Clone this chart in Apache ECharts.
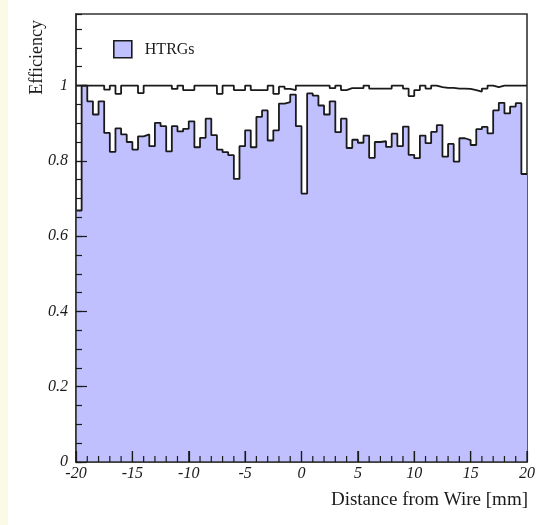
<!DOCTYPE html>
<html>
<head>
<meta charset="utf-8">
<script src="https://cdn.jsdelivr.net/npm/echarts@6/dist/echarts.min.js"></script>
<style>
  html, body { margin: 0; padding: 0; background: #ffffff; }
  #chart { width: 542px; height: 525px; }
</style>
</head>
<body>
<div id="chart"></div>
<script>
// Histogram binning: 80 bins of 0.5 mm between -20 and 20 mm
const xMin = -20;
const xMax = 20;
const binWidth = 0.5;

// HTRG efficiency per bin (filled histogram)
const htrgEff = [
  0.668, 1.000, 0.958, 0.923, 0.958, 0.874, 0.824, 0.886, 0.870, 0.850,
  0.830, 0.865, 0.870, 0.839, 0.901, 0.892, 0.825, 0.892, 0.878, 0.885,
  0.905, 0.836, 0.861, 0.912, 0.868, 0.830, 0.823, 0.815, 0.752, 0.839,
  0.881, 0.836, 0.917, 0.934, 0.854, 0.881, 0.952, 0.956, 0.976, 0.892,
  0.713, 0.979, 0.973, 0.947, 0.923, 0.958, 0.876, 0.912, 0.834, 0.856,
  0.848, 0.867, 0.808, 0.850, 0.852, 0.837, 0.872, 0.839, 0.891, 0.816,
  0.807, 0.867, 0.847, 0.877, 0.895, 0.811, 0.845, 0.798, 0.860, 0.855,
  0.842, 0.884, 0.890, 0.873, 0.934, 0.954, 0.926, 0.944, 0.953, 0.765
];

// Hit efficiency per bin (outline histogram near 1)
const hitEff = [
  1.000, 1.000, 1.000, 1.000, 1.000, 0.989, 1.000, 0.978, 1.000, 1.000,
  1.000, 0.980, 1.000, 1.000, 1.000, 1.000, 1.000, 0.991, 1.000, 0.988,
  0.988, 1.000, 1.000, 1.000, 1.000, 0.978, 1.000, 1.000, 0.988, 0.988,
  1.000, 0.988, 0.988, 0.988, 1.000, 0.978, 0.997, 0.991, 0.988, 1.000,
  1.000, 1.000, 1.000, 1.000, 1.000, 0.993, 1.000, 0.988, 0.993, 0.993,
  0.993, 1.000, 0.992, 0.992, 0.992, 0.992, 1.000, 1.000, 0.992, 0.972,
  0.988, 1.000, 0.992, 1.000, 0.996, 0.994, 0.994, 0.992, 0.992, 0.991,
  0.988, 0.984, 0.992, 1.000, 0.996, 1.000, 1.000, 1.000, 1.000, 1.000
];

// Axis ranges and ticks
const yMin = 0;
const yMax = 1.19;
const yMajor = 0.2;
const yMinor = 0.05;
const xMajor = 5;
const xMinor = 1;

const legendName = 'HTRGs';
const xTitle = 'Distance from Wire [mm]';
const yTitle = 'Efficiency';

// Step-line points: one per bin left edge plus the closing right edge
function toSteps(values) {
  const pts = values.map((v, i) => [xMin + i * binWidth, v]);
  pts.push([xMax, values[values.length - 1]]);
  return pts;
}

// Tick positions along the distance axis (every 1 mm)
const xTickPos = [];
for (let t = xMin; t <= xMax; t += xMinor) xTickPos.push([t, yMin]);

const serif = '"Liberation Serif", "Times New Roman", serif';
const ink = '#1a1a1a';
const frame = '#333333';
const fill = '#c0c0ff';

const chart = echarts.init(document.getElementById('chart'), null, { renderer: 'canvas' });

chart.setOption({
  backgroundColor: '#ffffff',
  animation: false,
  graphic: [
    { type: 'rect', left: 0, top: 0, z: -10, shape: { width: 8, height: 525 }, style: { fill: '#fafae6' } },
    {
      type: 'text', x: 28, y: 20, rotation: Math.PI / 2,
      style: { text: yTitle, font: '18px ' + serif, fill: ink, align: 'right', verticalAlign: 'top' }
    },
    {
      type: 'text', x: 528, y: 491,
      style: { text: xTitle, font: '19px ' + serif, fill: ink, align: 'right', verticalAlign: 'top' }
    }
  ],
  grid: {
    left: 76, top: 14, width: 451, height: 448,
    show: true, backgroundColor: '#ffffff', borderColor: frame, borderWidth: 1.6
  },
  legend: {
    left: 113, top: 40, padding: 0,
    itemWidth: 18, itemHeight: 17,
    data: [{
      name: legendName, icon: 'rect',
      itemStyle: { color: fill, borderColor: ink, borderWidth: 1.6 }
    }],
    textStyle: { fontFamily: serif, fontSize: 16, color: ink, padding: [0, 0, 0, 8] }
  },
  xAxis: {
    type: 'value', min: xMin, max: xMax, interval: xMajor, position: 'bottom', z: 10,
    axisLine: { show: true, onZero: false, lineStyle: { color: frame, width: 1.6 } },
    axisTick: { show: true, inside: true, length: 11, lineStyle: { color: ink, width: 1.2 } },
    splitLine: { show: false },
    axisLabel: { fontFamily: serif, fontStyle: 'italic', fontSize: 16, color: ink, margin: 4 }
  },
  yAxis: [
    {
      type: 'value', min: yMin, max: yMax, interval: yMajor, position: 'left', z: 10,
      axisLine: { show: true, onZero: false, lineStyle: { color: frame, width: 1.6 } },
      axisTick: { show: true, inside: true, length: 11, lineStyle: { color: ink, width: 1.2 } },
      splitLine: { show: false },
      axisLabel: {
        fontFamily: serif, fontStyle: 'italic', fontSize: 16, color: ink, margin: 8,
        showMaxLabel: false,
        formatter: function (v) {
          if (v > 1.001) return '';
          if (Math.abs(v) < 1e-9) return '0';
          if (Math.abs(v - 1) < 1e-9) return '1';
          return v.toFixed(1);
        }
      }
    },
    {
      type: 'value', min: yMin, max: yMax, interval: yMinor, position: 'left', z: 10,
      axisLine: { show: false, onZero: false },
      axisTick: { show: true, inside: true, length: 6, lineStyle: { color: ink, width: 1.2 } },
      splitLine: { show: false },
      axisLabel: { show: false }
    }
  ],
  series: [
    {
      name: 'hits', type: 'line', step: 'end', xAxisIndex: 0, yAxisIndex: 0,
      data: toSteps(hitEff), showSymbol: false, symbol: 'none',
      lineStyle: { color: ink, width: 1.8 }, z: 3
    },
    {
      name: legendName, type: 'line', step: 'end', xAxisIndex: 0, yAxisIndex: 0,
      data: toSteps(htrgEff), showSymbol: false, symbol: 'none',
      itemStyle: { color: fill },
      lineStyle: { color: ink, width: 1.8 },
      areaStyle: { color: fill, opacity: 1, origin: 'start' }, z: 2
    },
    {
      // inward tick marks on the distance axis: long every 5 mm, short every 1 mm
      name: 'xticks', type: 'custom', xAxisIndex: 0, yAxisIndex: 0,
      silent: true, z: 12, data: xTickPos,
      renderItem: function (params, api) {
        const x = api.value(0);
        const p = api.coord([x, api.value(1)]);
        const major = Math.abs(x % xMajor) < 1e-9;
        const len = major ? 11 : 6;
        return {
          type: 'line',
          shape: { x1: p[0], y1: p[1], x2: p[0], y2: p[1] - len },
          style: { stroke: ink, lineWidth: 1.2 }
        };
      }
    }
  ]
});
</script>
</body>
</html>
